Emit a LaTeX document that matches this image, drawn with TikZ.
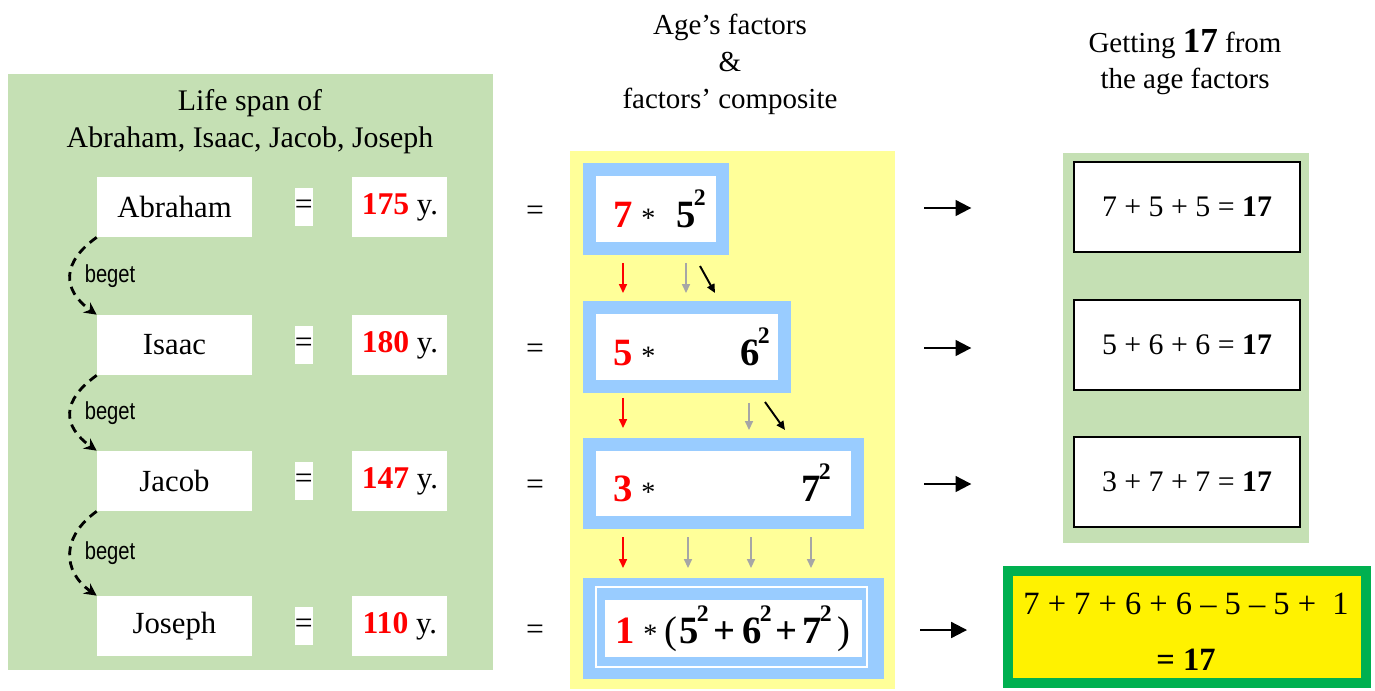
\documentclass[tikz,border=0pt]{standalone}
\usepackage{fontspec}
\setmainfont{Liberation Serif}
\newfontfamily\narrowsans[FakeStretch=0.82]{Liberation Sans}
\usepackage{tikz}
\usetikzlibrary{positioning,arrows.meta,calc}

\definecolor{lifegreen}{HTML}{C5E0B4}
\definecolor{factyellow}{HTML}{FFFF99}
\definecolor{factblue}{HTML}{99CCFF}
\definecolor{sumgreen}{HTML}{00B050}
\definecolor{arrgray}{HTML}{A6A6A6}

\newcommand{\sz}[1]{\fontsize{#1}{#1}\selectfont}
\newcommand{\sqr}[1]{#1\kern-0.05em\raisebox{0.55em}{\fontsize{13.5}{13.5}\selectfont 2}}

\begin{document}
\begin{tikzpicture}[
    x=0.02cm, y=-0.02cm,
    every node/.style={inner sep=0pt, align=center},
    namebox/.style={fill=white, minimum width=3.1cm, minimum height=1.2cm, font=\sz{17.5}},
    eqbox/.style={fill=white, minimum width=0.36cm, minimum height=0.76cm, font=\sz{18}},
    agebox/.style={fill=white, minimum width=1.9cm, minimum height=1.2cm, font=\sz{17.5}},
    factbox/.style={draw=factblue, line width=0.26cm, fill=white, minimum height=1.58cm},
    fact/.style={anchor=base west, font=\sz{22}\bfseries},
    star/.style={anchor=base west, font=\sz{16}},
    sumbox/.style={draw, line width=0.8pt, fill=white, minimum width=4.52cm, minimum height=1.8cm, font=\sz{17}},
    beget/.style={-{Stealth[length=7pt,width=7pt]}, line width=1.6pt, dash pattern=on 5pt off 3.5pt},
    down/.style={-{Triangle[length=5pt,width=4.5pt]}, line width=0.8pt},
    toward/.style={-{Triangle[length=9pt,width=9pt]}, line width=1.2pt}
  ]
  \useasboundingbox (0,0) rectangle (1375,690);

  % life spans
  \fill[lifegreen] (8,74) rectangle (493,670);
  \node[font=\fontsize{17}{21}\selectfont] (lifehead) at (250,122) {Life span of\\Abraham, Isaac, Jacob, Joseph};
  \foreach \n/\who/\age/\y in {1/Abraham/175/207, 2/Isaac/180/345, 3/Jacob/147/481, 4/Joseph/110/626} {
    \node[namebox] (name\n) at (174.5,\y) {\who};
    \node[eqbox, right=0.84cm of name\n] (eq\n) {=};
    \node[agebox, right=0.78cm of eq\n] (age\n) {\textcolor{red}{\fontsize{18}{18}\selectfont\bfseries \age} y.};
    \node[font=\sz{18}, right=1.56cm of age\n, yshift=-0.12cm] (is\n) {=};
  }
  \foreach \n/\m in {1/2, 2/3, 3/4}
    \draw[beget] (name\n.south west) .. controls +(-35,25) and +(-35,-25) .. (name\m.north west)
      node[midway, right=2.6mm, font=\narrowsans\sz{14}] {beget};

  % factors
  \node[font=\fontsize{16.5}{21}\selectfont] (agehead) at (730,64) {Age's factors\\\&\\factors' composite};
  \fill[factyellow] (570,151) rectangle (895,689);
  \node[factbox, minimum width=2.66cm] (fac1) at (656,209) {};
  \node[factbox, minimum width=3.9cm] (fac2) at (687,347) {};
  \node[factbox, minimum width=5.36cm, minimum height=1.56cm] (fac3) at (723.5,483.5) {};
  \node[factbox, line width=0.44cm, minimum width=5.58cm] (fac4) at (733.5,628.5) {};
  \draw[white, line width=1.2pt] ($(fac4.north west)+(13,9)$) rectangle ($(fac4.south east)+(-17,-12)$);

  \node[fact, red] (f1a) at (613,227) {7};
  \node[star] (f1s) at (641,227) {*};
  \node[fact] (f1b) at (676,227) {\sqr{5}};
  \node[fact, red] (f2a) at (613,365) {5};
  \node[star] (f2s) at (641,365) {*};
  \node[fact] (f2b) at (740,365) {\sqr{6}};
  \node[fact, red] (f3a) at (613,501) {3};
  \node[star] (f3s) at (641,501) {*};
  \node[fact] (f3b) at (801,501) {\sqr{7}};
  \node[fact, red] (f4a) at (615,643) {1};
  \node[star] (f4s) at (643,643) {*};
  \node[star, font=\sz{22}] (f4o) at (664,643) {(};
  \node[fact] (f4b) at (679,643) {\sqr{5}};
  \node[fact] (f4p) at (713,643) {+};
  \node[fact] (f4c) at (742,643) {\sqr{6}};
  \node[fact] (f4q) at (775,643) {+};
  \node[fact] (f4d) at (802,643) {\sqr{7}};
  \node[star, font=\sz{22}] (f4r) at (837,643) {)};

  \draw[down, red] ($(f1a |- fac1.south)+(0,8)$) -- ($(f1a |- fac2.north)+(0,-8)$);
  \draw[down, arrgray] ($(f1b.west |- fac1.south)+(10,8)$) -- ($(f1b.west |- fac2.north)+(10,-8)$);
  \draw[down, line width=1.1pt] ($(f1b.west |- fac1.south)+(24,11)$) -- ++(15,27);
  \draw[down, red] ($(f2a |- fac2.south)+(0,5)$) -- ($(f2a |- fac3.north)+(0,-10)$);
  \draw[down, arrgray] ($(f2b.west |- fac2.south)+(9,10)$) -- ($(f2b.west |- fac3.north)+(9,-8)$);
  \draw[down, line width=1.1pt] ($(f2b.west |- fac2.south)+(25,9)$) -- ++(20,28);
  \draw[down, red] ($(f3a |- fac3.south)+(0,8)$) -- ($(f3a |- fac4.north)+(0,-10)$);
  \foreach \f in {f4b, f4c, f4d}
    \draw[down, arrgray] ($(\f.west |- fac3.south)+(9,8)$) -- ($(\f.west |- fac4.north)+(9,-10)$);

  % sums
  \node[font=\fontsize{16.5}{21}\selectfont] (gethead) at (1185,62) {Getting {\fontsize{20}{20}\selectfont\bfseries 17} from\\the age factors};
  \fill[lifegreen] (1063,153) rectangle (1309,543);
  \node[sumbox] (sum1) at (1187,207) {7 + 5 + 5 = \textbf{17}};
  \node[sumbox] (sum2) at (1187,345) {5 + 6 + 6 = \textbf{17}};
  \node[sumbox] (sum3) at (1187,482) {3 + 7 + 7 = \textbf{17}};
  \node[draw=sumgreen, line width=0.2cm, fill=yellow, minimum width=7.16cm, minimum height=2.24cm] (total) at (1187,627) {};
  \node[font=\fontsize{18.5}{32}\selectfont] (totaltext) at (1186,632) {7 + 7 + 6 + 6 – 5 – 5 + \ 1\\\textbf{= 17}};

  \draw[toward] ($(sum1.west)+(-149,1)$) -- ($(sum1.west)+(-102,1)$);
  \draw[toward] ($(sum2.west)+(-149,3)$) -- ($(sum2.west)+(-102,3)$);
  \draw[toward] ($(sum3.west)+(-149,2)$) -- ($(sum3.west)+(-102,2)$);
  \draw[toward] ($(total.west)+(-83,3)$) -- ($(total.west)+(-36,3)$);
\end{tikzpicture}
\end{document}
